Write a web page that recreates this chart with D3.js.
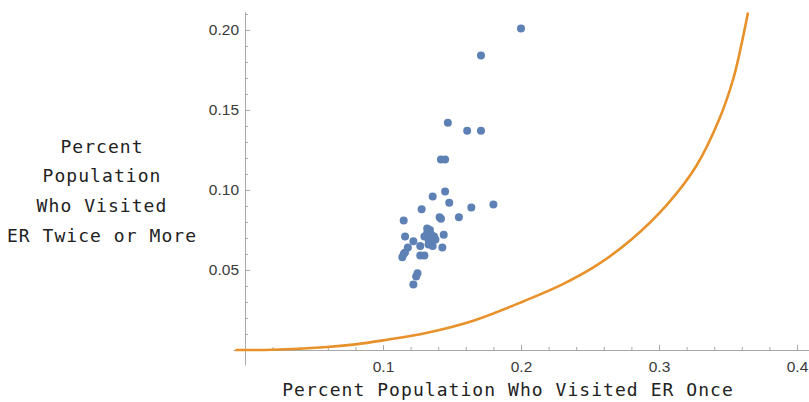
<!DOCTYPE html>
<html>
<head>
<meta charset="utf-8">
<script src="https://cdn.jsdelivr.net/npm/d3@7/dist/d3.min.js"></script>
<style>
  html, body { margin: 0; padding: 0; background: #fff; }
  svg { display: block; }
</style>
</head>
<body>
<svg id="chart" width="809" height="402"></svg>
<script>
// ---- data ----
const pointX = [0.200, 0.171, 0.147, 0.161, 0.171, 0.142, 0.145, 0.145, 0.136, 0.148,
                0.164, 0.180, 0.128, 0.115, 0.141, 0.142, 0.155, 0.132, 0.134, 0.116,
                0.130, 0.135, 0.137, 0.144, 0.122, 0.133, 0.134, 0.127, 0.136, 0.143,
                0.133, 0.118, 0.116, 0.115, 0.114, 0.127, 0.130, 0.125, 0.124, 0.122,
                0.132, 0.138];
const pointY = [0.201, 0.184, 0.142, 0.137, 0.137, 0.119, 0.119, 0.099, 0.096, 0.092,
                0.089, 0.091, 0.088, 0.081, 0.083, 0.082, 0.083, 0.076, 0.075, 0.071,
                0.071, 0.072, 0.071, 0.072, 0.068, 0.069, 0.067, 0.065, 0.065, 0.064,
                0.066, 0.064, 0.061, 0.060, 0.058, 0.059, 0.059, 0.048, 0.046, 0.041,
                0.073, 0.069];

const curveX = [-0.007, 0.020, 0.057, 0.080, 0.100, 0.132, 0.166, 0.202, 0.230, 0.255,
                0.280, 0.306, 0.327, 0.344, 0.354, 0.360, 0.3645];
const curveY = [0.0000, 0.0002, 0.0017, 0.0035, 0.0060, 0.0108, 0.0185, 0.0305, 0.0410, 0.0530,
                0.0690, 0.0910, 0.1150, 0.1450, 0.1700, 0.1920, 0.2110];

const xMajorTicks = [0.1, 0.2, 0.3, 0.4];
const xTickLabels = ["0.1", "0.2", "0.3", "0.4"];
const yMajorTicks = [0.05, 0.10, 0.15, 0.20];
const yTickLabels = ["0.05", "0.10", "0.15", "0.20"];
const xMinorTicks = [0.02, 0.04, 0.06, 0.08, 0.12, 0.14, 0.16, 0.18, 0.22, 0.24, 0.26, 0.28,
                     0.32, 0.34, 0.36, 0.38];
const yMinorTicks = [0.01, 0.02, 0.03, 0.04, 0.06, 0.07, 0.08, 0.09, 0.11, 0.12, 0.13, 0.14,
                     0.16, 0.17, 0.18, 0.19, 0.21];

const xLabel = "Percent Population Who Visited ER Once";
const yLabelLines = ["Percent", "Population", "Who Visited", "ER Twice or More"];

// ---- layout ----
const svg = d3.select("#chart");
const xDomain = [-0.0087, 0.4093];
const yDomain = [-0.0094, 0.2115];
const x = d3.scaleLinear().domain(xDomain).range([245 - 0.0087 * 1380, 245 + 0.4093 * 1380]);
const y = d3.scaleLinear().domain(yDomain).range([350 + 0.0094 * 1600, 350 - 0.2115 * 1600]);

const axisColor = "#a8a8a8";
const tickFont = "'Liberation Sans', Arial, sans-serif";
const labelFont = "'DejaVu Sans Mono', monospace";

// clip for plotted data
svg.append("defs").append("clipPath").attr("id", "plotclip")
  .append("rect")
  .attr("x", x(xDomain[0])).attr("y", y(yDomain[1]))
  .attr("width", x(xDomain[1]) - x(xDomain[0]))
  .attr("height", y(yDomain[0]) - y(yDomain[1]));

// x axis (at y = 0)
const xAxisMajor = d3.axisBottom(x).tickValues(xMajorTicks)
  .tickFormat((d, i) => xTickLabels[i]).tickSizeInner(-5).tickSizeOuter(0).tickPadding(11);
const gx = svg.append("g").attr("transform", `translate(0,${y(0)})`).call(xAxisMajor);
gx.select(".domain").attr("stroke", axisColor);
gx.selectAll(".tick line").attr("stroke", axisColor);
gx.selectAll(".tick text").attr("fill", "#3a3a3a").style("font-family", tickFont).style("font-size", "15.5px");

const xAxisMinor = d3.axisBottom(x).tickValues(xMinorTicks).tickFormat("")
  .tickSizeInner(-3).tickSizeOuter(0);
const gxm = svg.append("g").attr("transform", `translate(0,${y(0)})`).call(xAxisMinor);
gxm.select(".domain").remove();
gxm.selectAll(".tick line").attr("stroke", axisColor);

// y axis (at x = 0)
const yAxisMajor = d3.axisLeft(y).tickValues(yMajorTicks)
  .tickFormat((d, i) => yTickLabels[i]).tickSizeInner(-5).tickSizeOuter(0).tickPadding(6);
const gy = svg.append("g").attr("transform", `translate(${x(0)},0)`).call(yAxisMajor);
gy.select(".domain").attr("stroke", axisColor);
gy.selectAll(".tick line").attr("stroke", axisColor);
gy.selectAll(".tick text").attr("fill", "#3a3a3a").style("font-family", tickFont).style("font-size", "15.5px");

const yAxisMinor = d3.axisLeft(y).tickValues(yMinorTicks).tickFormat("")
  .tickSizeInner(-3).tickSizeOuter(0);
const gym = svg.append("g").attr("transform", `translate(${x(0)},0)`).call(yAxisMinor);
gym.select(".domain").remove();
gym.selectAll(".tick line").attr("stroke", axisColor);

// curve
const curveData = curveX.map((d, i) => [d, curveY[i]]);
svg.append("path")
  .datum(curveData)
  .attr("clip-path", "url(#plotclip)")
  .attr("fill", "none")
  .attr("stroke", "#E8912A")
  .attr("stroke-width", 2.6)
  .attr("d", d3.line().x(d => x(d[0])).y(d => y(d[1])).curve(d3.curveCatmullRom.alpha(0.5)));

// points
const pts = pointX.map((d, i) => [d, pointY[i]]);
svg.append("g").selectAll("circle").data(pts).join("circle")
  .attr("cx", d => x(d[0]))
  .attr("cy", d => y(d[1]))
  .attr("r", 4)
  .attr("fill", "#5E81B5");

// axis labels
svg.append("text")
  .attr("x", 508).attr("y", 396)
  .attr("text-anchor", "middle")
  .style("font-family", labelFont).style("font-size", "18px").style("letter-spacing", "1.05px")
  .attr("fill", "#222")
  .text(xLabel);

const ylab = svg.append("text")
  .attr("text-anchor", "middle")
  .style("font-family", labelFont).style("font-size", "18px").style("letter-spacing", "1.05px")
  .attr("fill", "#222");
yLabelLines.forEach((line, i) => {
  ylab.append("tspan").attr("x", 102).attr("y", 152.7 + i * 29.6).text(line);
});
</script>
</body>
</html>
